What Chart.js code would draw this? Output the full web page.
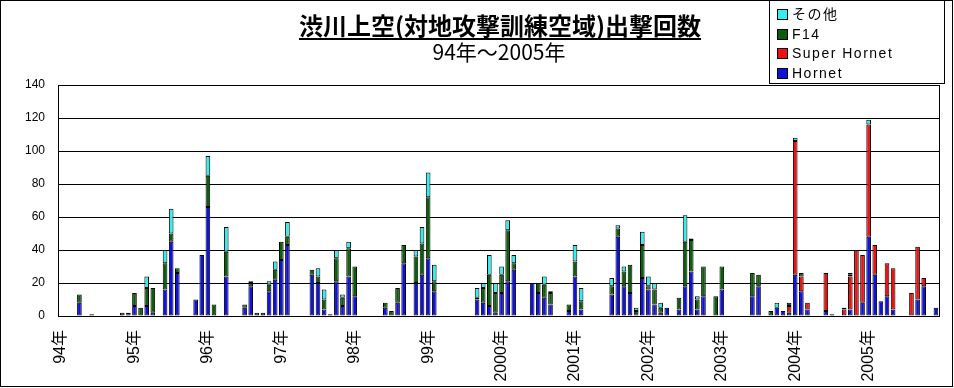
<!DOCTYPE html>
<html>
<head>
<meta charset="utf-8">
<script src="https://cdn.jsdelivr.net/npm/chart.js@4.4.0/dist/chart.umd.min.js"></script>
<style>
  html, body { margin: 0; padding: 0; background: #fff; }
  #wrap { width: 954px; height: 388px; }
</style>
</head>
<body>
<div id="wrap"><canvas id="myChart" width="954" height="388"></canvas></div>
<script>
// one label per January, 1994 .. 2005 (12 months each)
const yearLabels = ['94年', '95年', '96年', '97年', '98年', '99年',
  '2000年', '2001年', '2002年', '2003年', '2004年', '2005年'];

// monthly sorties, Jan 1994 .. Dec 2005
const hornet = [
  0, 0, 0, 8, 0, 0, 0, 0, 0, 0, 0, 0,
  6, 0, 6, 2, 0, 16, 45, 26, 0, 0, 10, 37,
  66, 0, 0, 24, 0, 0, 5, 18, 0, 2, 15, 22,
  34, 43, 0, 0, 0, 25, 20, 4, 0, 21, 6, 24,
  12, 0, 0, 0, 0, 5, 0, 8, 32, 0, 20, 25,
  35, 15, 0, 0, 0, 0, 0, 0, 10, 8, 6, 2,
  14, 21, 28, 0, 0, 20, 14, 11, 7, 0, 0, 3,
  24, 4, 0, 0, 0, 0, 13, 48, 18, 14, 1, 23,
  16, 7, 2, 5, 0, 4, 18, 27, 4, 12, 0, 0,
  16, 0, 0, 0, 0, 12, 18, 0, 0, 5, 3, 2,
  25, 15, 4, 0, 0, 3, 0, 0, 0, 4, 0, 8,
  48, 25, 9, 12, 4, 0, 0, 0, 10, 18, 0, 5
];
const superHornet = [
  0, 0, 0, 0, 0, 0, 0, 0, 0, 0, 0, 0,
  0, 0, 0, 0, 0, 0, 0, 0, 0, 0, 0, 0,
  0, 0, 0, 0, 0, 0, 0, 0, 0, 0, 0, 0,
  0, 0, 0, 0, 0, 0, 0, 0, 0, 0, 0, 0,
  0, 0, 0, 0, 0, 0, 0, 0, 0, 0, 0, 0,
  0, 0, 0, 0, 0, 0, 0, 0, 0, 0, 0, 0,
  0, 0, 0, 0, 0, 0, 0, 0, 0, 0, 0, 0,
  0, 0, 0, 0, 0, 0, 0, 0, 0, 0, 0, 0,
  0, 0, 0, 0, 0, 0, 0, 0, 0, 0, 0, 0,
  0, 0, 0, 0, 0, 0, 0, 0, 0, 0, 0, 4,
  81, 9, 4, 0, 0, 23, 1, 0, 4, 20, 40, 29,
  68, 18, 0, 20, 25, 0, 0, 14, 32, 5, 0, 0
];
const f14 = [
  0, 0, 0, 5, 0, 1, 0, 0, 0, 0, 2, 1,
  8, 5, 11, 15, 0, 16, 5, 3, 0, 0, 0, 0,
  19, 7, 0, 15, 0, 0, 2, 2, 2, 0, 4, 6,
  11, 5, 0, 0, 0, 3, 4, 6, 1, 14, 5, 17,
  18, 0, 0, 0, 0, 3, 3, 9, 11, 0, 16, 19,
  37, 6, 0, 0, 0, 0, 0, 0, 1, 9, 19, 12,
  11, 31, 4, 0, 0, 0, 6, 8, 7, 0, 0, 4,
  9, 5, 0, 0, 0, 0, 5, 5, 9, 17, 2, 20,
  2, 9, 3, 0, 0, 7, 27, 19, 6, 18, 0, 12,
  14, 0, 0, 0, 0, 14, 7, 0, 3, 0, 0, 2,
  0, 2, 0, 0, 0, 0, 0, 0, 1, 1, 0, 0,
  0, 0, 0, 0, 0, 0, 0, 0, 0, 0, 0, 0
];
const other = [
  0, 0, 0, 0, 0, 0, 0, 0, 0, 0, 0, 1,
  0, 0, 7, 0, 0, 8, 15, 0, 0, 0, 0, 0,
  12, 0, 0, 15, 0, 0, 0, 1, 0, 0, 2, 5,
  0, 9, 0, 0, 0, 0, 5, 6, 0, 5, 2, 4,
  0, 0, 0, 0, 0, 0, 0, 0, 0, 0, 4, 10,
  15, 10, 0, 0, 0, 0, 0, 0, 6, 3, 12, 6,
  5, 6, 5, 0, 0, 0, 0, 5, 1, 0, 0, 0,
  10, 8, 0, 0, 0, 0, 5, 2, 3, 0, 2, 8,
  6, 4, 3, 0, 0, 0, 16, 1, 2, 0, 0, 0,
  0, 0, 0, 0, 0, 0, 0, 0, 0, 3, 0, 0,
  2, 0, 0, 0, 0, 0, 0, 0, 0, 1, 0, 0,
  3, 0, 0, 0, 0, 0, 0, 0, 0, 0, 0, 0
];

const months = [];
yearLabels.forEach(y => {
  for (let m = 0; m < 12; m++) months.push(m === 0 ? y : '');
});

const CJK = '"Noto Sans CJK JP", sans-serif';
const SANS = '"Liberation Sans", "Noto Sans CJK JP", sans-serif';

Chart.defaults.color = '#000';
Chart.defaults.font.family = SANS;

function ds(label, data, color) {
  return {
    label: label,
    data: data.map(v => v === 0 ? null : v),
    backgroundColor: color,
    borderColor: '#000',
    borderWidth: 1,
    borderSkipped: false,
    categoryPercentage: 1,
    barPercentage: 0.76
  };
}

// frame, title, legend box and the right edge of the plot
const decor = {
  id: 'decor',
  afterDraw(chart) {
    const ctx = chart.ctx;
    const a = chart.chartArea;
    ctx.save();
    ctx.strokeStyle = '#000';
    ctx.lineWidth = 1;
    ctx.strokeRect(0.5, 0.5, 952, 386);
    ctx.beginPath();
    ctx.moveTo(Math.round(a.right) + 0.5, a.top);
    ctx.lineTo(Math.round(a.right) + 0.5, a.bottom);
    ctx.stroke();
    ctx.strokeRect(769.5, 0.5, 175, 83);

    ctx.fillStyle = '#000';
    ctx.textAlign = 'center';
    ctx.textBaseline = 'alphabetic';
    ctx.font = 'bold 24px ' + CJK;
    const t = '渋川上空(対地攻撃訓練空域)出撃回数';
    ctx.fillText(t, 500, 35);
    const w = ctx.measureText(t).width;
    ctx.fillRect(Math.round(500 - w / 2), 38, Math.round(w), 2);
    ctx.font = '21px ' + CJK;
    ctx.fillText('94年～2005年', 499, 60);

    // legend: reverse of stacking order
    ctx.textAlign = 'left';
    ctx.textBaseline = 'middle';
    ctx.font = '14px ' + SANS;
    ctx.letterSpacing = '1.5px';
    const items = chart.data.datasets.slice().reverse();
    items.forEach((d, i) => {
      const y = 14 + i * 19.7;
      ctx.fillStyle = d.backgroundColor;
      ctx.fillRect(777, Math.round(y - 5), 10, 10);
      ctx.strokeRect(777.5, Math.round(y - 5) + 0.5, 10, 10);
      ctx.fillStyle = '#000';
      ctx.fillText(d.label, 792, y + 1);
    });
    ctx.restore();
  }
};

new Chart(document.getElementById('myChart'), {
  type: 'bar',
  data: {
    labels: months,
    datasets: [
      ds('Hornet', hornet, '#1111DD'),
      ds('Super Hornet', superHornet, '#EE1111'),
      ds('F14', f14, '#0B5E0B'),
      ds('その他', other, '#33EEEE')
    ]
  },
  options: {
    responsive: false,
    animation: false,
    devicePixelRatio: 1,
    layout: { padding: { top: 85, right: 15, left: 0, bottom: 0 } },
    plugins: {
      legend: { display: false },
      title: { display: false },
      tooltip: { enabled: false }
    },
    scales: {
      x: {
        stacked: true,
        grid: { display: false },
        border: { display: true, color: '#000', width: 1 },
        ticks: {
          autoSkip: false,
          minRotation: 90,
          maxRotation: 90,
          padding: 6,
          font: { size: 16, family: SANS }
        },
        afterFit: s => {
          s.height = 72;
          s.paddingLeft = 0;
          s.paddingRight = 0;
        }
      },
      y: {
        stacked: true,
        min: 0,
        max: 140,
        grid: { color: '#000', lineWidth: 1, drawTicks: false },
        border: { display: true, color: '#000', width: 1 },
        ticks: {
          stepSize: 20,
          padding: 13,
          font: { size: 12, family: SANS }
        },
        afterFit: s => { s.width = 58; }
      }
    }
  },
  plugins: [decor]
});
</script>
</body>
</html>
